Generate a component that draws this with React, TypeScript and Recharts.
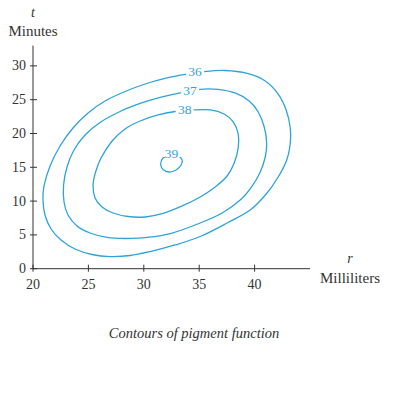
import { LineChart, Line, XAxis, YAxis, ReferenceDot } from "recharts";

const rTicks = [20, 25, 30, 35, 40];
const tTicks = [0, 5, 10, 15, 20, 25, 30];

// contour points, [r, t], going round each loop
const c36 = [
  [35.36, 29.14], [33.73, 28.73], [31.92, 28.14], [30.12, 27.32], [28.31, 26.21], [26.5, 24.81],
  [24.97, 23.03], [23.61, 20.81], [22.44, 18.15], [21.54, 15.19], [20.99, 12.23], [20.9, 10.16],
  [21.08, 7.94], [21.63, 5.87], [22.53, 4.24], [23.79, 2.91], [25.33, 2.1], [26.96, 1.8],
  [28.76, 1.95], [30.57, 2.54], [32.83, 3.51], [35.09, 4.76], [37.52, 6.76], [39.6, 8.68],
  [41.05, 11.05], [42.13, 13.56], [42.9, 16.08], [43.22, 18.59], [43.22, 20.81], [42.85, 23.48],
  [42.13, 25.84], [40.96, 27.77], [39.33, 28.88], [37.34, 29.32],
];
const c37 = [
  [35.09, 26.54], [33.28, 26.02], [31.47, 25.33], [29.67, 24.44], [27.86, 23.25], [26.05, 21.63],
  [24.7, 19.78], [23.7, 17.56], [23.07, 15.05], [22.76, 12.38], [22.8, 9.87], [23.16, 7.94],
  [23.97, 6.32], [25.15, 5.28], [26.68, 4.62], [28.31, 4.47], [30.3, 4.62], [32.56, 5.28],
  [35.09, 6.76], [37.07, 8.24], [38.7, 10.16], [39.78, 12.23], [40.51, 14.3], [40.96, 16.52],
  [41.09, 18.59], [40.87, 20.96], [40.33, 23.18], [39.51, 24.81], [38.34, 25.92], [36.71, 26.51],
];
const c38 = [
  [34.45, 23.48], [32.83, 23.25], [31.29, 22.74], [29.67, 21.85], [28.31, 20.67], [27.14, 18.89],
  [26.14, 16.38], [25.65, 14.3], [25.42, 12.38], [25.6, 10.46], [26.23, 9.13], [27.23, 8.24],
  [28.58, 7.72], [30.12, 7.65], [31.74, 8.17], [33.46, 9.28], [35.09, 10.61], [36.44, 12.09],
  [37.52, 13.71], [38.16, 15.64], [38.52, 17.86], [38.52, 19.93], [38.07, 21.7], [37.25, 22.88],
  [35.99, 23.48],
];
const c39 = [
  [31.74, 16.38], [31.52, 15.49], [31.74, 14.67], [32.29, 14.3], [32.92, 14.6], [33.37, 15.34],
  [33.46, 16.08], [33.1, 16.67], [32.38, 16.82],
];
const contourLabels = [
  { r: 34.63, t: 29.17, text: "36" },
  { r: 34.18, t: 26.29, text: "37" },
  { r: 33.69, t: 23.48, text: "38" },
  { r: 32.51, t: 17.04, text: "39" },
];

const BLUE = "#2ea3db";
const INK = "#333";
const FONT = "Liberation Serif, DejaVu Serif, serif";

const toRows = (pts: number[][]) => pts.map(([r, t]) => ({ r, t }));

// closed Catmull-Rom through the points (d3 curve factory shape)
function smoothClosed(ctx: any) {
  let pts: number[][] = [];
  return {
    areaStart() {},
    areaEnd() {},
    lineStart() {
      pts = [];
    },
    point(x: number, y: number) {
      pts.push([x, y]);
    },
    lineEnd() {
      const n = pts.length;
      if (!n) return;
      ctx.moveTo(pts[0][0], pts[0][1]);
      for (let i = 0; i < n; i++) {
        const p0 = pts[(i - 1 + n) % n];
        const p1 = pts[i];
        const p2 = pts[(i + 1) % n];
        const p3 = pts[(i + 2) % n];
        ctx.bezierCurveTo(
          p1[0] + (p2[0] - p0[0]) / 6,
          p1[1] + (p2[1] - p0[1]) / 6,
          p2[0] - (p3[0] - p1[0]) / 6,
          p2[1] - (p3[1] - p1[1]) / 6,
          p2[0],
          p2[1]
        );
      }
      ctx.closePath();
    },
  };
}

const XTick = ({ x, y, payload }: any) => (
  <g>
    <line x1={x} x2={x} y1={y - 4} y2={y + 3} stroke={INK} />
    <text x={x} y={y + 20} textAnchor="middle" fill={INK} fontFamily={FONT} fontSize={14}>
      {payload.value}
    </text>
  </g>
);

const YTick = ({ x, y, payload }: any) => (
  <g>
    <line x1={x - 3} x2={x + 4} y1={y} y2={y} stroke={INK} />
    <text x={x - 7} y={y + 4.5} textAnchor="end" fill={INK} fontFamily={FONT} fontSize={14}>
      {payload.value}
    </text>
  </g>
);

const labelShape = (text: string) => (props: any) => (
  <g>
    <rect x={props.cx - 9} y={props.cy - 6} width={18} height={9.5} fill="#fff" />
    <text x={props.cx} y={props.cy + 4.5} textAnchor="middle" fill={BLUE} fontFamily={FONT} fontSize={13.5}>
      {text}
    </text>
  </g>
);

export default function App() {
  return (
    <div style={{ position: "absolute", left: 0, top: 0, width: 396, height: 396, background: "#fff" }}>
      <LineChart width={396} height={396} margin={{ top: 45.6, right: 86, bottom: 0, left: 0 }}>
        <XAxis
          type="number"
          dataKey="r"
          domain={[20, 45]}
          ticks={rTicks}
          height={127.3}
          tickSize={0}
          tickMargin={0}
          tick={<XTick />}
          stroke={INK}
          allowDataOverflow
        />
        <YAxis
          type="number"
          dataKey="t"
          domain={[0, 33]}
          ticks={tTicks}
          width={33}
          tickSize={0}
          tickMargin={0}
          tick={<YTick />}
          stroke={INK}
          allowDataOverflow
        />
        {[c36, c37, c38, c39].map((c, i) => (
          <Line
            key={i}
            data={toRows(c)}
            dataKey="t"
            type={smoothClosed as any}
            stroke={BLUE}
            strokeWidth={1.3}
            dot={false}
            activeDot={false}
            isAnimationActive={false}
          />
        ))}
        {contourLabels.map((l) => (
          <ReferenceDot key={l.text} x={l.r} y={l.t} r={0} shape={labelShape(l.text)} />
        ))}
      </LineChart>
      <svg width={396} height={396} style={{ position: "absolute", left: 0, top: 0, pointerEvents: "none" }}>
        <g fill={INK} fontFamily={FONT}>
          <text x={33} y={17} textAnchor="middle" fontSize={14} fontStyle="italic">t</text>
          <text x={33} y={36} textAnchor="middle" fontSize={15}>Minutes</text>
          <text x={350} y={263} textAnchor="middle" fontSize={14} fontStyle="italic">r</text>
          <text x={350} y={283} textAnchor="middle" fontSize={15}>Milliliters</text>
          <text x={194} y={338} textAnchor="middle" fontSize={14.5} fontStyle="italic">
            Contours of pigment function
          </text>
        </g>
      </svg>
    </div>
  );
}
